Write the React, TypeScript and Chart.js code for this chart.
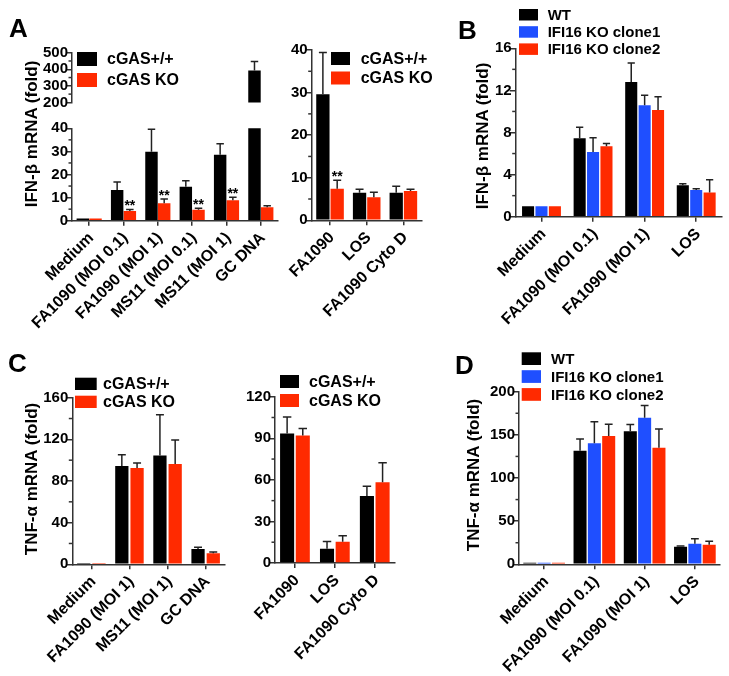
import React, { useEffect, useRef } from 'react';
import { Chart, registerables } from 'chart.js';

const FONT = '"Liberation Sans", Arial, Helvetica, sans-serif';
const BLACK = '#000000';
const RED = '#FF2A00';
const BLUE = '#1F4FFF';
const AXIS = '#333333';

// ---------- Panel A (left, broken axis) ----------
const catsA1 = ['Medium', 'FA1090 (MOI 0.1)', 'FA1090 (MOI 1)', 'MS11 (MOI 0.1)', 'MS11 (MOI 1)', 'GC DNA'];
const a1WT = [1, 13.3, 29.9, 14.7, 28.5, 392];
const a1WTErr = [0, 3.4, 9.7, 2.6, 4.8, 55];
const a1KO = [1, 4.2, 7.6, 4.7, 8.9, 5.8];
const a1KOErr = [0, 0.7, 1.8, 0.7, 1.3, 0.7];
const a1Stars = ['', '**', '**', '**', '**', ''];
const a1TopTicks = [200, 500, 100, 50]; // min, max, step, minor
const a1BotTicks = [0, 40, 10, 5];

// ---------- Panel A (right) ----------
const catsA2 = ['FA1090', 'LOS', 'FA1090 Cyto D'];
const a2WT = [29.6, 6.5, 6.5];
const a2WTErr = [9.8, 0.8, 1.5];
const a2KO = [7.4, 5.4, 6.9];
const a2KOErr = [2.0, 1.2, 0.4];
const a2Stars = ['**', '', ''];
const a2Ticks = [0, 40, 10, 5];

// ---------- Panel B ----------
const catsB = ['Medium', 'FA1090 (MOI 0.1)', 'FA1090 (MOI 1)', 'LOS'];
const bWT = [1, 7.45, 12.8, 2.98];
const bWTErr = [0, 1.05, 1.8, 0.15];
const bC1 = [1, 6.15, 10.6, 2.53];
const bC1Err = [0, 1.35, 0.95, 0.13];
const bC2 = [1, 6.7, 10.13, 2.3];
const bC2Err = [0, 0.25, 1.27, 1.2];
const bTicks = [0, 16, 4, 2];

// ---------- Panel C (left) ----------
const catsC1 = ['Medium', 'FA1090 (MOI 1)', 'MS11 (MOI 1)', 'GC DNA'];
const c1WT = [1.2, 94.3, 104.6, 14.7];
const c1WTErr = [0, 11, 39, 1.6];
const c1KO = [1.2, 92.4, 96.3, 10.5];
const c1KOErr = [0, 5, 23, 1.3];
const c1Ticks = [0, 160, 40, 20];

// ---------- Panel C (right) ----------
const catsC2 = ['FA1090', 'LOS', 'FA1090 Cyto D'];
const c2WT = [93.5, 10.3, 48.3];
const c2WTErr = [11.8, 5.3, 7];
const c2KO = [92, 15.4, 58.2];
const c2KOErr = [5, 4.3, 14.1];
const c2Ticks = [0, 120, 30, 15];

// ---------- Panel D ----------
const catsD = ['Medium', 'FA1090 (MOI 0.1)', 'FA1090 (MOI 1)', 'LOS'];
const dWT = [1.8, 131.6, 154.1, 20.4];
const dWTErr = [0, 13.6, 8, 0.8];
const dC1 = [1.8, 140.2, 169.9, 23.9];
const dC1Err = [0, 25, 14, 5.8];
const dC2 = [1.8, 148.7, 135.1, 22.7];
const dC2Err = [0, 13.5, 21.7, 3.9];
const dTicks = [0, 200, 50, 25];

const cgasNames = ['cGAS+/+', 'cGAS KO'];
const ifiNames = ['WT', 'IFI16 KO clone1', 'IFI16 KO clone2'];

const errorBarsPlugin = {
  id: 'errorBars',
  afterDatasetsDraw(chart: any) {
    const { ctx, chartArea: a } = chart;
    const ys = chart.scales.y;
    ctx.save();
    ctx.beginPath();
    ctx.rect(a.left, a.top - 1, a.right - a.left, a.bottom - a.top + 1);
    ctx.clip();
    ctx.strokeStyle = '#222';
    ctx.lineWidth = 1.5;
    chart.data.datasets.forEach((ds: any, i: number) => {
      const errs = ds.errors;
      if (!errs) return;
      chart.getDatasetMeta(i).data.forEach((el: any, j: number) => {
        const e = errs[j];
        if (!e) return;
        const v = ds.data[j];
        const y0 = ys.getPixelForValue(v);
        const y1 = ys.getPixelForValue(v + e);
        const hw = el.width * 0.3;
        ctx.beginPath();
        ctx.moveTo(el.x, y0);
        ctx.lineTo(el.x, y1);
        ctx.moveTo(el.x - hw, y1);
        ctx.lineTo(el.x + hw, y1);
        ctx.stroke();
      });
    });
    ctx.restore();
  },
};

const starsPlugin = {
  id: 'stars',
  afterDatasetsDraw(chart: any) {
    const { ctx, chartArea: a } = chart;
    const ys = chart.scales.y;
    ctx.save();
    ctx.font = `bold 14px ${FONT}`;
    ctx.fillStyle = '#000';
    ctx.textAlign = 'center';
    ctx.textBaseline = 'alphabetic';
    chart.data.datasets.forEach((ds: any, i: number) => {
      if (!ds.stars) return;
      chart.getDatasetMeta(i).data.forEach((el: any, j: number) => {
        const s = ds.stars[j];
        if (!s) return;
        const top = ys.getPixelForValue(ds.data[j] + (ds.errors ? ds.errors[j] : 0));
        if (top < a.top || top > a.bottom) return;
        ctx.fillText(s, el.x, top + 1);
      });
    });
    ctx.restore();
  },
};

const minorTicksPlugin = {
  id: 'minorTicks',
  afterDraw(chart: any, _args: any, opts: any) {
    if (!opts || !opts.step) return;
    const ys = chart.scales.y;
    const ctx = chart.ctx;
    const x = chart.chartArea.left;
    ctx.save();
    ctx.strokeStyle = AXIS;
    ctx.lineWidth = 1.5;
    for (let k = 1; k < 100; k++) {
      const v = ys.min + k * opts.step;
      if (v >= ys.max - 1e-9) break;
      if (Math.abs(v / opts.major - Math.round(v / opts.major)) < 1e-6) continue;
      const y = ys.getPixelForValue(v);
      ctx.beginPath();
      ctx.moveTo(x - opts.len, y);
      ctx.lineTo(x, y);
      ctx.stroke();
    }
    ctx.restore();
  },
};

const boxLegendPlugin = {
  id: 'boxLegend',
  afterDraw(chart: any, _args: any, o: any) {
    if (!o || o.x === undefined) return;
    const ctx = chart.ctx;
    ctx.save();
    ctx.font = `bold ${o.size}px ${FONT}`;
    ctx.textAlign = 'left';
    ctx.textBaseline = 'middle';
    chart.data.datasets.forEach((ds: any, i: number) => {
      const y = o.y + i * o.rowH;
      ctx.fillStyle = ds.backgroundColor;
      ctx.fillRect(o.x, y, o.bw, o.bh);
      ctx.fillStyle = '#000';
      ctx.fillText(ds.label, o.x + o.gap, y + o.bh / 2 + 1);
    });
    ctx.restore();
  },
};

Chart.register(...registerables, errorBarsPlugin, starsPlugin, minorTicksPlugin, boxLegendPlugin);

type DS = { label: string; data: number[]; errors: number[]; stars?: string[]; color: string };
type Spec = {
  left: number; top: number; width: number; height: number;
  axisX: number; areaTop: number; areaBottom: number; areaRight: number;
  labels: string[]; datasets: DS[]; ticks: number[]; showX: boolean;
  catPct: number; barPct: number;
  legend?: { x: number; y: number; rowH: number; bw: number; bh: number; gap: number; size: number };
};

function buildConfig(s: Spec): any {
  const yW = s.axisX - s.left;
  const xH = s.top + s.height - s.areaBottom;
  const [ymin, ymax, ystep, yminor] = s.ticks;
  const majorValues: number[] = [];
  for (let v = ymin; v <= ymax + 1e-9; v += ystep) majorValues.push(v);
  return {
    type: 'bar',
    data: {
      labels: s.labels,
      datasets: s.datasets.map((d) => ({
        label: d.label,
        data: d.data,
        errors: d.errors,
        stars: d.stars,
        backgroundColor: d.color,
        borderWidth: 0,
        categoryPercentage: s.catPct,
        barPercentage: s.barPct,
        clip: 0,
      })),
    },
    options: {
      responsive: false,
      animation: false,
      events: [],
      layout: {
        padding: {
          left: 0,
          top: s.areaTop - s.top,
          right: s.left + s.width - s.areaRight,
          bottom: s.showX ? 0 : xH,
        },
      },
      plugins: {
        legend: { display: false },
        tooltip: { enabled: false },
        minorTicks: { step: yminor, major: ystep, len: 3.5 },
        boxLegend: s.legend
          ? { ...s.legend, x: s.legend.x - s.left, y: s.legend.y - s.top }
          : {},
      },
      scales: {
        x: {
          display: s.showX,
          offset: true,
          grid: { offset: false, drawOnChartArea: false, drawTicks: true, tickLength: 5, color: AXIS, lineWidth: 1.5 },
          border: { display: true, color: AXIS, width: 1.5 },
          ticks: {
            autoSkip: false,
            minRotation: 45,
            maxRotation: 45,
            padding: 3,
            labelOffset: 2,
            color: '#000',
            font: { family: FONT, size: 16, weight: 'bold' },
          },
          afterFit: (sc: any) => { sc.height = xH; },
        },
        y: {
          min: ymin,
          max: ymax,
          grid: { drawOnChartArea: false, drawTicks: true, tickLength: 6, color: AXIS, lineWidth: 1.5 },
          border: { display: true, color: AXIS, width: 1.5 },
          ticks: {
            stepSize: ystep,
            autoSkip: false,
            padding: -2,
            color: '#000',
            font: { family: FONT, size: 15, weight: 'bold' },
          },
          afterBuildTicks: (sc: any) => {
            sc.ticks = majorValues.map((v) => ({ value: v }));
          },
          afterFit: (sc: any) => { sc.width = yW; },
        },
      },
    },
  };
}

function Panel({ spec }: { spec: Spec }) {
  const ref = useRef<HTMLCanvasElement | null>(null);
  useEffect(() => {
    if (!ref.current) return;
    const c = new Chart(ref.current, buildConfig(spec));
    return () => c.destroy();
  }, []);
  return (
    <canvas
      ref={ref}
      width={spec.width}
      height={spec.height}
      style={{ position: 'absolute', left: spec.left, top: spec.top, width: spec.width, height: spec.height }}
    />
  );
}

const cgasA1 = (stars: boolean): DS[] => [
  { label: cgasNames[0], data: a1WT, errors: a1WTErr, color: BLACK },
  { label: cgasNames[1], data: a1KO, errors: a1KOErr, stars: stars ? a1Stars : undefined, color: RED },
];

const specs: Spec[] = [
  {
    left: 0, top: 40, width: 290, height: 85, axisX: 72, areaTop: 52.7, areaBottom: 113.7, areaRight: 278,
    labels: catsA1, datasets: cgasA1(false), ticks: a1TopTicks, showX: false, catPct: 0.74, barPct: 0.98,
    legend: { x: 77, y: 52, rowH: 21, bw: 20, bh: 14, gap: 30, size: 16 },
  },
  {
    left: 0, top: 110, width: 290, height: 230, axisX: 72, areaTop: 128.3, areaBottom: 220.7, areaRight: 278,
    labels: catsA1, datasets: cgasA1(true), ticks: a1BotTicks, showX: true, catPct: 0.74, barPct: 0.98,
  },
  {
    left: 270, top: 38, width: 200, height: 300, axisX: 311.7, areaTop: 50, areaBottom: 220.3, areaRight: 421.7,
    labels: catsA2,
    datasets: [
      { label: cgasNames[0], data: a2WT, errors: a2WTErr, color: BLACK },
      { label: cgasNames[1], data: a2KO, errors: a2KOErr, stars: a2Stars, color: RED },
    ],
    ticks: a2Ticks, showX: true, catPct: 0.78, barPct: 0.93,
    legend: { x: 331, y: 52, rowH: 19.5, bw: 19, bh: 13, gap: 29.7, size: 16 },
  },
  {
    left: 490, top: 0, width: 239, height: 340, axisX: 515.7, areaTop: 48.3, areaBottom: 216.7, areaRight: 722,
    labels: catsB,
    datasets: [
      { label: ifiNames[0], data: bWT, errors: bWTErr, color: BLACK },
      { label: ifiNames[1], data: bC1, errors: bC1Err, color: BLUE },
      { label: ifiNames[2], data: bC2, errors: bC2Err, color: RED },
    ],
    ticks: bTicks, showX: true, catPct: 0.78, barPct: 0.9,
    legend: { x: 519, y: 9, rowH: 17.2, bw: 19, bh: 11.5, gap: 28.7, size: 15 },
  },
  {
    left: 0, top: 370, width: 250, height: 306, axisX: 72.3, areaTop: 397.7, areaBottom: 564.3, areaRight: 224.7,
    labels: catsC1,
    datasets: [
      { label: cgasNames[0], data: c1WT, errors: c1WTErr, color: BLACK },
      { label: cgasNames[1], data: c1KO, errors: c1KOErr, color: RED },
    ],
    ticks: c1Ticks, showX: true, catPct: 0.8, barPct: 0.87,
    legend: { x: 75, y: 377.7, rowH: 18, bw: 21.7, bh: 12.3, gap: 28, size: 16 },
  },
  {
    left: 240, top: 370, width: 230, height: 306, axisX: 275, areaTop: 396.7, areaBottom: 563, areaRight: 394.7,
    labels: catsC2,
    datasets: [
      { label: cgasNames[0], data: c2WT, errors: c2WTErr, color: BLACK },
      { label: cgasNames[1], data: c2KO, errors: c2KOErr, color: RED },
    ],
    ticks: c2Ticks, showX: true, catPct: 0.785, barPct: 0.9,
    legend: { x: 280, y: 375, rowH: 19, bw: 19, bh: 13, gap: 29, size: 16 },
  },
  {
    left: 490, top: 340, width: 239, height: 336, axisX: 519, areaTop: 391.7, areaBottom: 564.3, areaRight: 720,
    labels: catsD,
    datasets: [
      { label: ifiNames[0], data: dWT, errors: dWTErr, color: BLACK },
      { label: ifiNames[1], data: dC1, errors: dC1Err, color: BLUE },
      { label: ifiNames[2], data: dC2, errors: dC2Err, color: RED },
    ],
    ticks: dTicks, showX: true, catPct: 0.855, barPct: 0.91,
    legend: { x: 521.7, y: 352.3, rowH: 17.9, bw: 19.3, bh: 12.7, gap: 29.3, size: 15 },
  },
];

const letters = [
  { t: 'A', x: 9, y: 14.6 },
  { t: 'B', x: 458, y: 16.8 },
  { t: 'C', x: 8, y: 349.6 },
  { t: 'D', x: 455, y: 351.6 },
];

const yTitles = [
  { t: 'IFN-β mRNA (fold)', x: 32, y: 134 },
  { t: 'IFN-β mRNA (fold)', x: 483, y: 136 },
  { t: 'TNF-α mRNA (fold)', x: 32, y: 479 },
  { t: 'TNF-α mRNA (fold)', x: 474, y: 475 },
];

export default function App() {
  return (
    <div
      style={{
        position: 'fixed', left: 0, top: 0, width: 729, height: 676, background: '#fff',
        overflow: 'hidden', fontFamily: FONT, color: '#000',
      }}
    >
      {specs.map((s, i) => (
        <Panel key={i} spec={s} />
      ))}
      {letters.map((l) => (
        <div
          key={l.t}
          style={{ position: 'absolute', left: l.x, top: l.y, fontSize: 26, lineHeight: '26px', fontWeight: 'bold' }}
        >
          {l.t}
        </div>
      ))}
      {yTitles.map((t, i) => (
        <div
          key={i}
          style={{
            position: 'absolute', left: t.x, top: t.y, fontSize: 17, lineHeight: '18px', fontWeight: 'bold',
            whiteSpace: 'nowrap', transform: 'translate(-50%, -50%) rotate(-90deg)',
          }}
        >
          {t.t}
        </div>
      ))}
    </div>
  );
}
